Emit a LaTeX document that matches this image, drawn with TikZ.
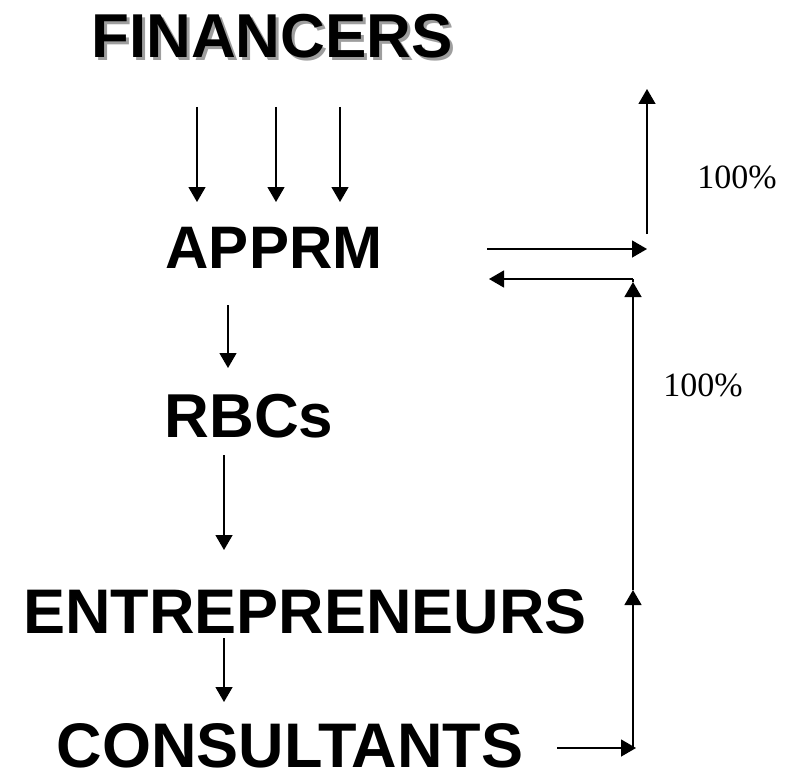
\documentclass[tikz,border=0pt]{standalone}
\usepackage{fontspec}
\setmainfont{Liberation Sans}
\newfontfamily\pctfont{Liberation Serif}
\usetikzlibrary{arrows.meta}
\begin{document}
\begin{tikzpicture}[x=1pt,y=-1pt,
  lbl/.style={font=\bfseries\fontsize{62}{62}\selectfont, inner sep=0pt, anchor=base, text depth=0pt},
  arr/.style={line width=1.4pt, -{Triangle[length=15pt,width=17pt]}},
  ln/.style={line width=1.4pt},
  pct/.style={font=\pctfont\fontsize{34}{34}\selectfont, inner sep=0pt}]
\useasboundingbox (0,0) rectangle (794,773);
% labels
\node[lbl,text=black!38] (finshadow) at (275,61) {FINANCERS};
\node[lbl] (fin) at (272,58) {FINANCERS};
\node[lbl,font=\bfseries\fontsize{60}{60}\selectfont] (apprm) at (274,268) {APPRM};
\node[lbl] (rbcs) at (249,437) {RBCs};
\node[lbl,font=\bfseries\fontsize{63}{63}\selectfont] (entr) at (305,633) {ENTREPRENEURS};
\node[lbl,font=\bfseries\fontsize{63}{63}\selectfont] (cons) at (290,767) {CONSULTANTS};
\node[pct] (p1) at (737,177) {100\%};
\node[pct] (p2) at (703,385) {100\%};
% connector points
\coordinate (f1a) at (197,107); \coordinate (f1b) at (197,202);
\coordinate (f2a) at (276,107); \coordinate (f2b) at (276,202);
\coordinate (f3a) at (340,107); \coordinate (f3b) at (340,202);
\coordinate (ara) at (228,305); \coordinate (arb) at (228,368);
\coordinate (rea) at (224,455); \coordinate (reb) at (224,550);
\coordinate (eca) at (224,638); \coordinate (ecb) at (224,702);
\coordinate (ca) at (557,748); \coordinate (cb) at (636,748);
\coordinate (va) at (633,748); \coordinate (vm) at (633,590); \coordinate (vt) at (633,282);
\coordinate (hl0) at (633,279); \coordinate (hl1) at (489,279);
\coordinate (hr0) at (487,249); \coordinate (hr1) at (647,249);
\coordinate (ua) at (647,234); \coordinate (ub) at (647,89);
% arrows
\draw[arr] (f1a) -- (f1b);
\draw[arr] (f2a) -- (f2b);
\draw[arr] (f3a) -- (f3b);
\draw[arr] (ara) -- (arb);
\draw[arr] (rea) -- (reb);
\draw[arr] (eca) -- (ecb);
\draw[arr] (ca) -- (cb);
\draw[arr] (va) -- (vm);
\draw[arr] (vm) -- (vt);
\draw[ln] (vt) -- (hl0);
\draw[arr] (hl0) -- (hl1);
\draw[arr] (hr0) -- (hr1);
\draw[arr] (ua) -- (ub);
\end{tikzpicture}
\end{document}
